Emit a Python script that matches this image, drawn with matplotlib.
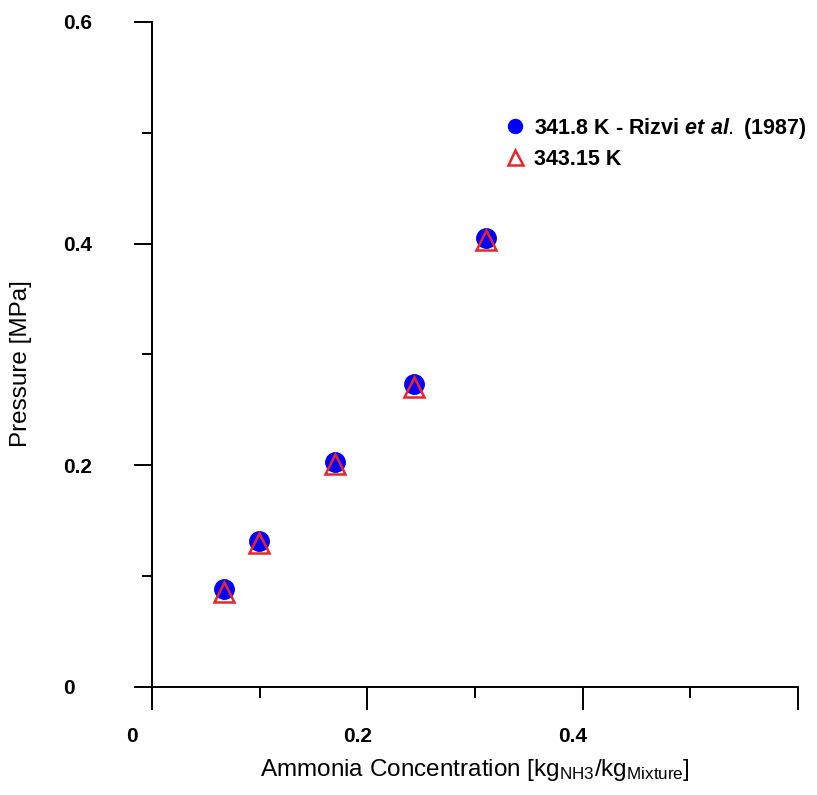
import numpy as np
import matplotlib
matplotlib.use('Agg')
import matplotlib.pyplot as plt
from matplotlib.transforms import ScaledTranslation

plt.rcParams['font.family'] = 'Liberation Sans'
plt.rcParams['mathtext.fontset'] = 'custom'
plt.rcParams['mathtext.rm'] = 'Liberation Sans'
plt.rcParams['mathtext.it'] = 'Liberation Sans:italic:bold'

# Rizvi et al. (1987), 341.8 K
x_rizvi = [0.067, 0.099, 0.170, 0.243, 0.310]
p_rizvi = [0.088, 0.132, 0.203, 0.273, 0.405]
# model, 343.15 K
x_model = [0.067, 0.099, 0.170, 0.243, 0.310]
p_model = [0.086, 0.130, 0.201, 0.271, 0.403]

labels = [r'341.8 K - Rizvi $\mathit{et\ al.}$ (1987)', '343.15 K']
xticks = [0, 0.2, 0.4, 0.6]
xticklabels = ['0', '0.2', '0.4', '']
yticks = [0, 0.2, 0.4, 0.6]
yticklabels = ['0', '0.2', '0.4', '0.6']
minor_ticks = [0.1, 0.3, 0.5]

fig = plt.figure(figsize=(8.17, 7.95), dpi=100)
ax = fig.add_axes([152/817, 1 - 687/795, (798 - 152)/817, (687 - 22)/795])

ax.plot(x_rizvi, p_rizvi, 'o', ms=14, color='#0000ff', mec='#0000ff', label=labels[0], clip_on=False)
ax.plot(x_model, p_model, '^', ms=15, mfc='none', mec='#e8262a', mew=1.8, label=labels[1], clip_on=False)

ax.set_xlim(0, 0.6)
ax.set_ylim(0, 0.6)
for s in ['top', 'right']:
    ax.spines[s].set_visible(False)
for s in ['left', 'bottom']:
    ax.spines[s].set_linewidth(1.4)

ax.set_xticks(xticks)
ax.set_xticklabels(xticklabels)
ax.set_yticks(yticks)
ax.set_yticklabels(yticklabels)
ax.set_xticks(minor_ticks, minor=True)
ax.set_yticks(minor_ticks, minor=True)

ax.tick_params(axis='x', which='major', length=16.5, width=1.4, pad=12, labelsize=15)
ax.tick_params(axis='x', which='minor', length=8, width=1.4)
ax.tick_params(axis='y', which='major', length=13, width=1.4, pad=51, labelsize=15)
ax.tick_params(axis='y', which='minor', length=7, width=1.4)

for lbl in ax.get_yticklabels():
    lbl.set_fontweight('bold')
    lbl.set_horizontalalignment('left')
shifts = [-20, -10, -10, 0]
for lbl, dx in zip(ax.get_xticklabels(), shifts):
    lbl.set_fontweight('bold')
    lbl.set_transform(lbl.get_transform() + ScaledTranslation(dx/100, 0, fig.dpi_scale_trans))

ax.set_xlabel(r'Ammonia Concentration [kg$_{\mathrm{NH3}}$/kg$_{\mathrm{Mixture}}$]', fontsize=17.5)
ax.xaxis.set_label_coords(0.5, -0.105)
ax.set_ylabel('Pressure [MPa]', fontsize=17.5)
ax.yaxis.set_label_coords(-0.186, 0.486)

leg = ax.legend(loc='upper left', bbox_to_anchor=(504/817, 1 - 116/795), bbox_transform=fig.transFigure,
                frameon=False, borderpad=0, borderaxespad=0, handlelength=1.0, handletextpad=0.4,
                labelspacing=0.35, markerscale=0.72, prop={'weight': 'bold', 'size': 15.5})

fig.savefig('out.png', dpi=100)
